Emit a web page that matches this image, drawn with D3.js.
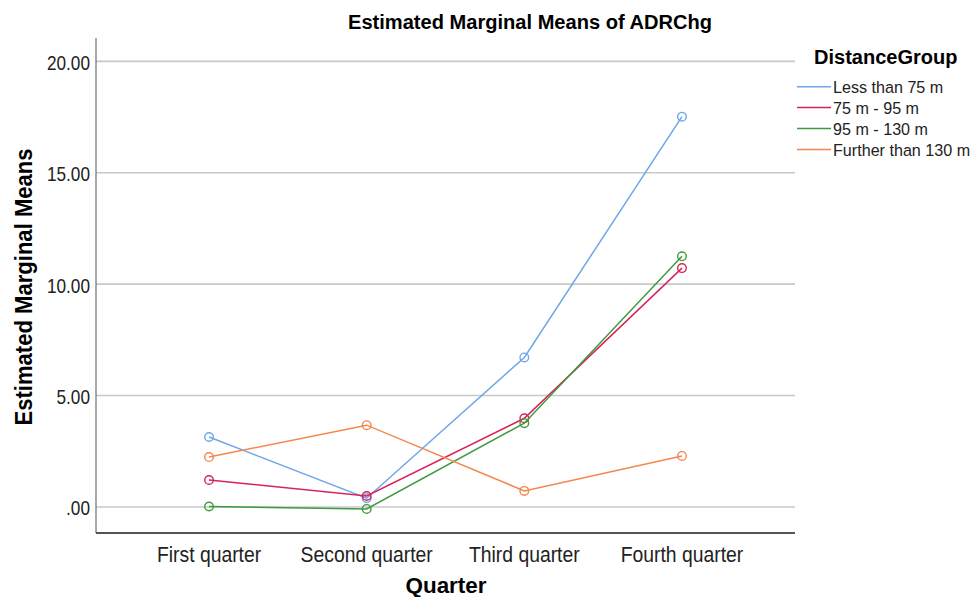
<!DOCTYPE html>
<html>
<head>
<meta charset="utf-8">
<script src="https://cdn.jsdelivr.net/npm/d3@7"></script>
<style>
  body { margin: 0; background: #fff; }
  text { font-family: "Liberation Sans", Arial, sans-serif; fill: #000; }
  .gridline line { stroke: #c8c8c8; stroke-width: 1.6; }
</style>
</head>
<body>
<div id="chart"></div>
<script>
// Estimated marginal means of ADRChg by quarter and distance group

const quarters = ["First quarter", "Second quarter", "Third quarter", "Fourth quarter"];
const groups   = ["Less than 75 m", "75 m - 95 m", "95 m - 130 m", "Further than 130 m"];
const colors   = ["#6ea6e8", "#d6245a", "#3f9a3f", "#f3884c"];

const lessThan75  = [3.14, 0.39, 6.71, 17.52];
const from75to95  = [1.21, 0.49, 3.98, 10.72];
const from95to130 = [0.02, -0.09, 3.76, 11.25];
const furtherThan130 = [2.24, 3.67, 0.72, 2.29];

const seriesValues = [lessThan75, from75to95, from95to130, furtherThan130];
const yTicks = [0, 5, 10, 15, 20];

const W = 971, H = 597;
const plot = { left: 96, right: 795, top: 38, bottom: 533 };

const svg = d3.select("#chart").append("svg")
  .attr("width", W)
  .attr("height", H);

// the original font is taller and narrower than Liberation Sans,
// so squeeze/stretch text along its baseline
function place(x, y, sx, rot) {
  return `translate(${x},${y})` + (rot ? ` rotate(${rot})` : "") + ` scale(${sx},1)`;
}

// SCALES
const x = d3.scalePoint()
  .domain(quarters)
  .range([plot.left, plot.right])
  .padding(0.717);

const y = d3.scaleLinear()
  .domain([-1.17, 21.05])
  .range([plot.bottom, plot.top]);

// Gridlines
svg.append("g")
  .attr("class", "gridline")
  .selectAll("line")
  .data(yTicks)
  .join("line")
  .attr("x1", plot.left).attr("x2", plot.right)
  .attr("y1", d => y(d)).attr("y2", d => y(d));

// Axis lines
svg.append("line")
  .attr("x1", plot.left).attr("x2", plot.left)
  .attr("y1", plot.top).attr("y2", plot.bottom)
  .attr("stroke", "#6e6e6e").attr("stroke-width", 1.2);
svg.append("line")
  .attr("x1", plot.left).attr("x2", plot.right)
  .attr("y1", plot.bottom).attr("y2", plot.bottom)
  .attr("stroke", "#555").attr("stroke-width", 1.8);

// Y tick labels
svg.append("g")
  .selectAll("text")
  .data(yTicks)
  .join("text")
  .attr("transform", d => place(plot.left - 6, y(d) + 8.5, 0.82))
  .attr("text-anchor", "end")
  .style("font-size", "21px")
  .style("fill", "#222")
  .text(d => d === 0 ? ".00" : d3.format(".2f")(d));

// X tick labels
svg.append("g")
  .selectAll("text")
  .data(quarters)
  .join("text")
  .attr("transform", d => place(x(d), 561.5, 0.9))
  .attr("text-anchor", "middle")
  .style("font-size", "21.5px")
  .style("fill", "#222")
  .text(d => d);

// Lines and markers
const line = d3.line()
  .x((d, i) => x(quarters[i]))
  .y(d => y(d));

groups.forEach((g, gi) => {
  const vals = seriesValues[gi];
  svg.append("path")
    .datum(vals)
    .attr("d", line)
    .attr("fill", "none")
    .attr("stroke", colors[gi])
    .attr("stroke-width", 1.5);

  svg.append("g")
    .selectAll("circle")
    .data(vals)
    .join("circle")
    .attr("cx", (d, i) => x(quarters[i]))
    .attr("cy", d => y(d))
    .attr("r", 4.3)
    .attr("fill", "none")
    .attr("stroke", colors[gi])
    .attr("stroke-width", 1.4);
});

// Title
svg.append("text")
  .attr("transform", place(530, 29, 1.03))
  .attr("text-anchor", "middle")
  .style("font-size", "19.5px")
  .style("font-weight", "bold")
  .text("Estimated Marginal Means of ADRChg");

// Axis titles
svg.append("text")
  .attr("transform", place(446, 593, 1.02))
  .attr("text-anchor", "middle")
  .style("font-size", "22px")
  .style("font-weight", "bold")
  .text("Quarter");

svg.append("text")
  .attr("transform", place(32, 287, 0.96, -90))
  .attr("text-anchor", "middle")
  .style("font-size", "23px")
  .style("font-weight", "bold")
  .text("Estimated Marginal Means");

// Legend
const legend = svg.append("g").attr("transform", "translate(797,0)");
legend.append("text")
  .attr("transform", place(17, 64, 0.977))
  .style("font-size", "20.5px")
  .style("font-weight", "bold")
  .text("DistanceGroup");

groups.forEach((g, gi) => {
  const ly = 86.7 + gi * 20.9;
  legend.append("line")
    .attr("x1", 0).attr("x2", 34)
    .attr("y1", ly).attr("y2", ly)
    .attr("stroke", colors[gi])
    .attr("stroke-width", 1.5);
  legend.append("text")
    .attr("transform", place(36, ly + 6.5, 0.99))
    .style("font-size", "16.3px")
    .style("fill", "#222")
    .text(g);
});
</script>
</body>
</html>
